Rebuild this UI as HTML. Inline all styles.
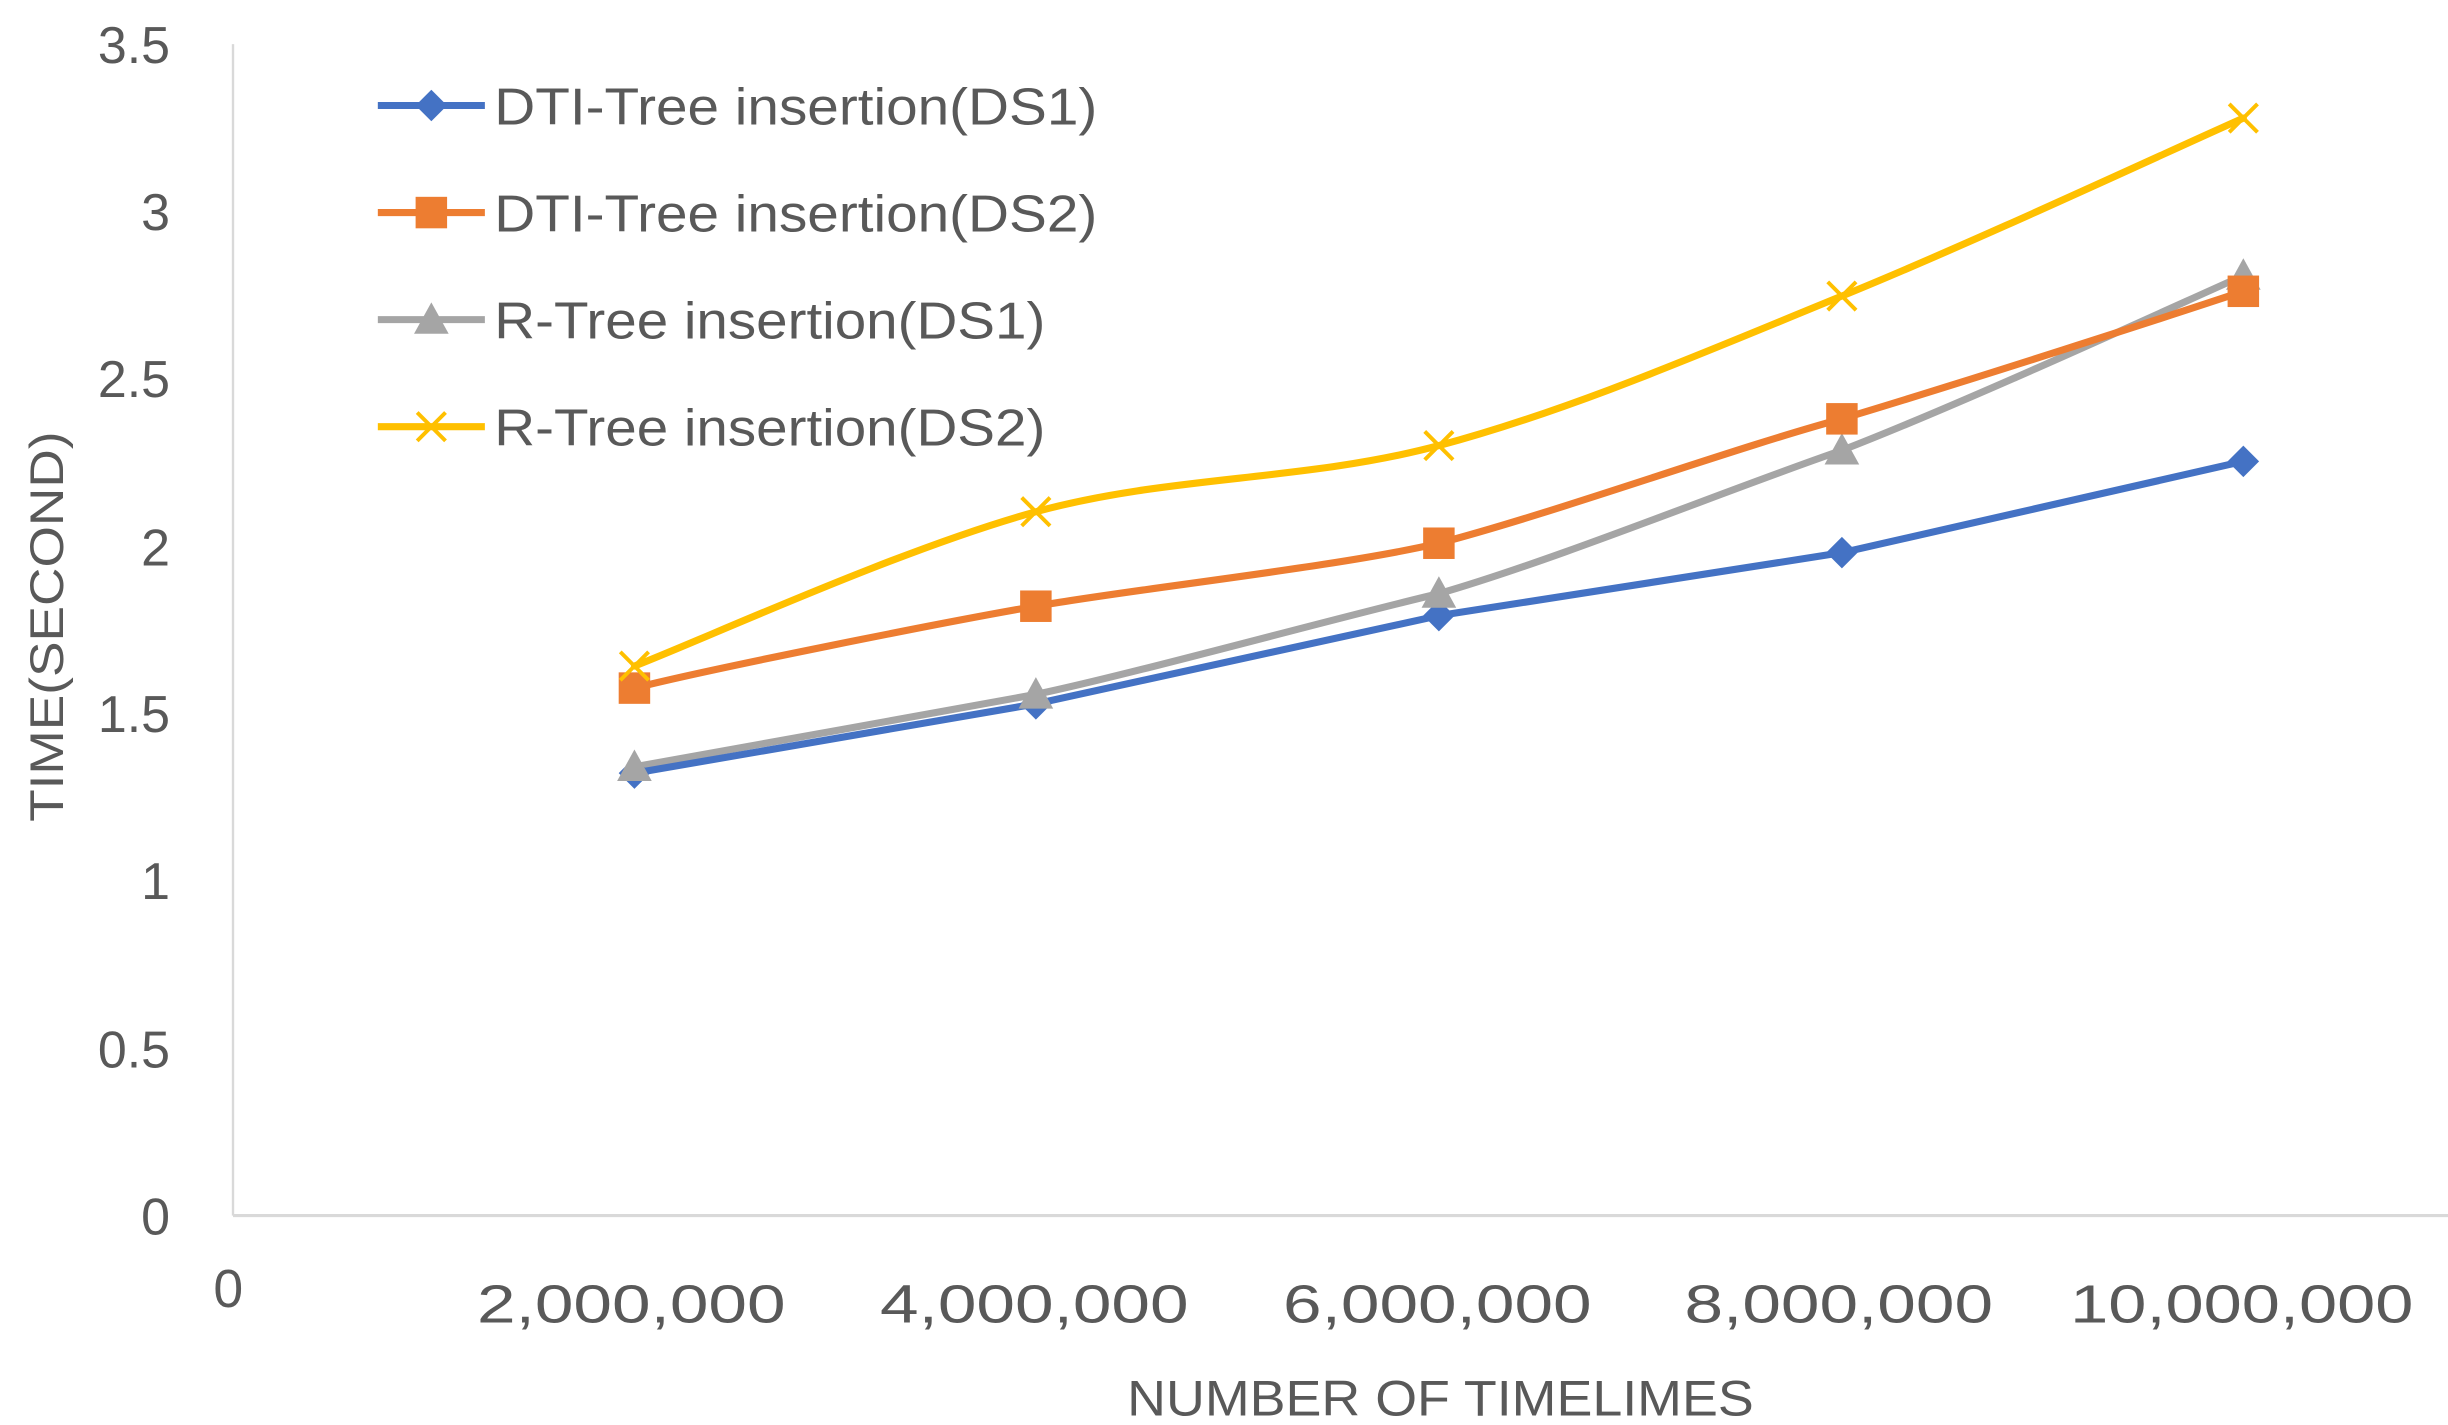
<!DOCTYPE html>
<html><head><meta charset="utf-8"><style>
html,body{margin:0;padding:0;background:#fff;}
svg{display:block;}
text{font-family:"Liberation Sans",sans-serif;fill:#595959;}
</style></head><body>
<svg width="2448" height="1425" viewBox="0 0 1555 905" preserveAspectRatio="none" xmlns="http://www.w3.org/2000/svg">
<rect width="1555" height="905" fill="#fff"/>
<line x1="148" y1="28" x2="148" y2="772" stroke="#d9d9d9" stroke-width="1.5"/>
<line x1="148" y1="772" x2="1555" y2="772" stroke="#d9d9d9" stroke-width="2"/>
<g font-size="33" text-anchor="end">
<text x="108" y="784">0</text>
<text x="108" y="678">0.5</text>
<text x="108" y="571">1</text>
<text x="108" y="465">1.5</text>
<text x="108" y="359">2</text>
<text x="108" y="252">2.5</text>
<text x="108" y="146">3</text>
<text x="108" y="40">3.5</text>
</g>
<g font-size="34" text-anchor="middle">
<text x="145" y="830">0</text>
<text x="401" y="840" textLength="196" lengthAdjust="spacingAndGlyphs">2,000,000</text>
<text x="657" y="840" textLength="196" lengthAdjust="spacingAndGlyphs">4,000,000</text>
<text x="913" y="840" textLength="196" lengthAdjust="spacingAndGlyphs">6,000,000</text>
<text x="1168" y="840" textLength="196" lengthAdjust="spacingAndGlyphs">8,000,000</text>
<text x="1424" y="840" textLength="218" lengthAdjust="spacingAndGlyphs">10,000,000</text>
</g>
<text x="915" y="899" font-size="32" text-anchor="middle" textLength="398" lengthAdjust="spacingAndGlyphs">NUMBER OF TIMELIMES</text>
<text transform="translate(40,398) rotate(-90)" font-size="30" text-anchor="middle" textLength="248" lengthAdjust="spacingAndGlyphs">TIME(SECOND)</text>

<g fill="none" stroke-width="4.5" stroke-linejoin="round" stroke-linecap="round">
<path d="M403,487 C445,479 600,452 658,441 C720,428 850,392 914,377 C990,355 1100,310 1170,286 C1250,255 1380,195 1425,175" stroke="#a5a5a5"/>
<polyline points="403,491 658,447 914,391 1170,351 1425,293" stroke="#4472c4"/>
<path d="M403,437 C450,425 600,395 658,385 C720,374 850,360 914,345 C990,325 1100,285 1170,266 C1250,242 1380,200 1425,185" stroke="#ed7d31"/>
<path d="M403,423 C445.5,406.7 572.8,348.3 658,325 C743.2,301.7 828.7,305.8 914,283 C999.3,260.2 1084.8,222.7 1170,188 C1255.2,153.3 1382.5,93.8 1425,75" stroke="#ffc000"/>
</g>
<!-- markers -->
<g fill="#4472c4">
<path d="M403,481 l10,10 -10,10 -10,-10z"/><path d="M658,437 l10,10 -10,10 -10,-10z"/><path d="M914,381 l10,10 -10,10 -10,-10z"/><path d="M1170,341 l10,10 -10,10 -10,-10z"/><path d="M1425,283 l10,10 -10,10 -10,-10z"/>
</g>
<g fill="#a5a5a5">
<path d="M403,476 l11,20 -22,0z"/><path d="M658,430 l11,20 -22,0z"/><path d="M914,366 l11,20 -22,0z"/><path d="M1170,275 l11,20 -22,0z"/><path d="M1425,164 l11,20 -22,0z"/>
</g>
<g fill="#ed7d31">
<rect x="393" y="427" width="20" height="20"/><rect x="648" y="375" width="20" height="20"/><rect x="904" y="335" width="20" height="20"/><rect x="1160" y="256" width="20" height="20"/><rect x="1415" y="175" width="20" height="20"/>
</g>
<g stroke="#ffc000" stroke-width="2.5">
<path d="M394,414 l18,18 M412,414 l-18,18"/><path d="M649,316 l18,18 M667,316 l-18,18"/><path d="M905,274 l18,18 M923,274 l-18,18"/><path d="M1161,179 l18,18 M1179,179 l-18,18"/><path d="M1416,66 l18,18 M1434,66 l-18,18"/>
</g>
<!-- legend -->
<g stroke-width="4.5">
<line x1="240" y1="67" x2="308" y2="67" stroke="#4472c4"/>
<line x1="240" y1="135" x2="308" y2="135" stroke="#ed7d31"/>
<line x1="240" y1="203" x2="308" y2="203" stroke="#a5a5a5"/>
<line x1="240" y1="271" x2="308" y2="271" stroke="#ffc000"/>
</g>
<path d="M274,57 l10,10 -10,10 -10,-10z" fill="#4472c4"/>
<rect x="264" y="125" width="20" height="20" fill="#ed7d31"/>
<path d="M274,192 l11,20 -22,0z" fill="#a5a5a5"/>
<path d="M265,262 l18,18 M283,262 l-18,18" stroke="#ffc000" stroke-width="2.5"/>
<g font-size="33">
<text x="314" y="79" textLength="383" lengthAdjust="spacingAndGlyphs">DTI-Tree insertion(DS1)</text>
<text x="314" y="147" textLength="383" lengthAdjust="spacingAndGlyphs">DTI-Tree insertion(DS2)</text>
<text x="314" y="215" textLength="350" lengthAdjust="spacingAndGlyphs">R-Tree insertion(DS1)</text>
<text x="314" y="283" textLength="350" lengthAdjust="spacingAndGlyphs">R-Tree insertion(DS2)</text>
</g>
</svg>
</body></html>
